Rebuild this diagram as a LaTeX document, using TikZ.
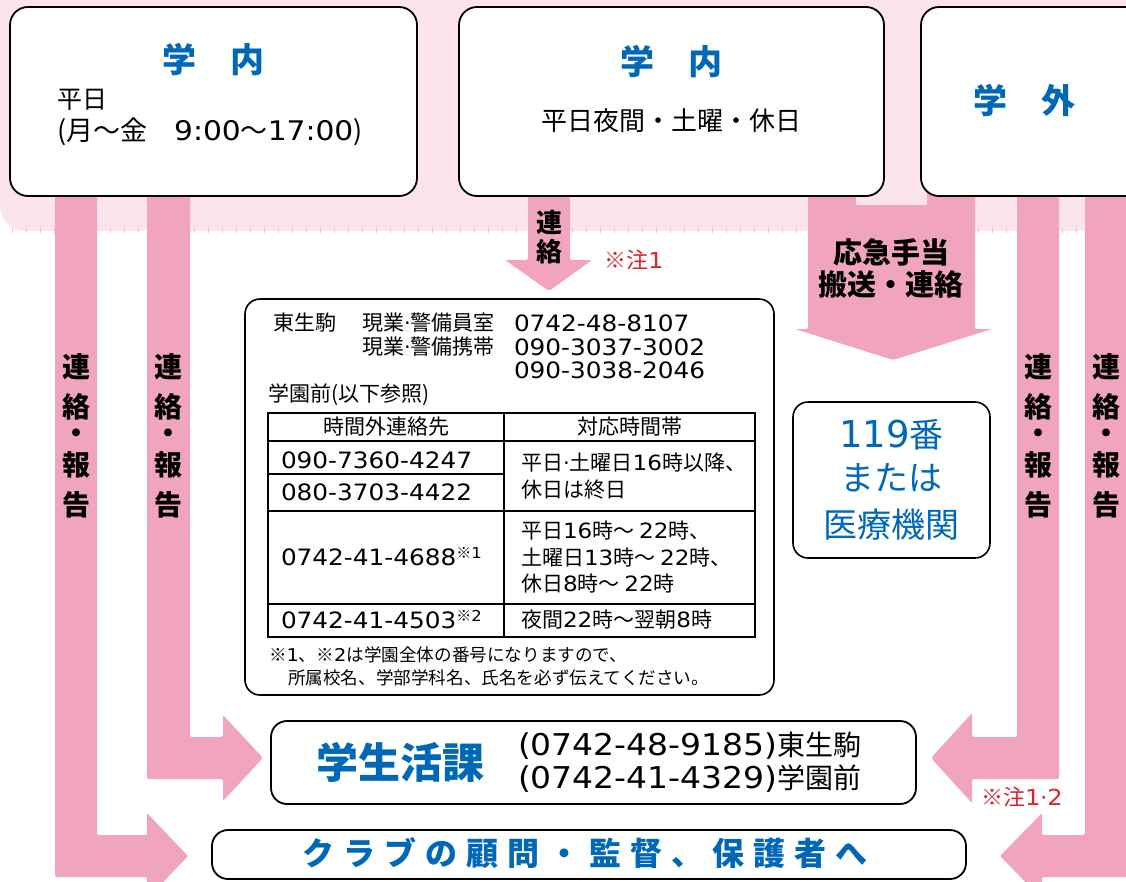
\documentclass[tikz,border=0pt]{standalone}
\usepackage{fontspec}
\setmainfont{Noto Sans CJK JP}
\newfontfamily\dv{DejaVu Sans}
\newfontfamily\dvw[FakeStretch=1.1]{DejaVu Sans}
\newcommand\fsz[1]{\fontsize{#1pt}{#1pt}\selectfont}
\newcommand\dd[1]{{\dvw #1}}
\definecolor{pk}{RGB}{241,164,190}
\definecolor{pkl}{RGB}{251,228,236}
\definecolor{tk}{RGB}{236,196,210}
\definecolor{bl}{RGB}{0,104,183}
\definecolor{rd}{RGB}{214,35,45}
\tikzset{
  bigbox/.style={draw=black, line width=1.8pt, fill=white, rounded corners=18pt, inner sep=0},
  midbox/.style={draw=black, line width=1.6pt, fill=white, rounded corners=15pt, inner sep=0},
  txt/.style={inner sep=0, outer sep=0},
  lt/.style={txt, anchor=west},
  head/.style={txt, text=bl, font=\fsz{34}\bfseries},
  vl/.style={txt, font=\fsz{28}\bfseries},
  jp/.style={lt, font=\fsz{21}},
  num/.style={lt, font=\dvw\fsz{22.5}},
  tline/.style={draw=black, line width=1.2pt},
  barfill/.style={fill=pk, rounded corners=2pt}
}
\begin{document}
\begin{tikzpicture}[x=1pt,y=-1pt]
\useasboundingbox (0,0) rectangle (1126,881);
\clip (0,0) rectangle (1126,881);
% background band
\fill[pkl, rounded corners=25pt] (0,-60) rectangle (1200,231);
\fill[pkl] (0,-60) rectangle (60,100);
\foreach \x in {12,26,...,1126} \draw[tk, line width=0.8pt] (\x,228) -- (\x,233);
% bars (block arrows)
\fill[barfill] (55,180) -- (55,877) -- (147,877) -- (147,899) -- (188,856) -- (147,813) -- (147,835) -- (97,835) -- (97,180) -- cycle;
\fill[barfill] (147,180) -- (147,779) -- (223,779) -- (223,801) -- (263,758) -- (223,715) -- (223,737) -- (190,737) -- (190,180) -- cycle;
\fill[barfill] (1059,180) -- (1059,779) -- (972,779) -- (972,803) -- (931,758) -- (972,713) -- (972,737) -- (1017,737) -- (1017,180) -- cycle;
\fill[barfill] (1130,180) -- (1130,877) -- (1042,877) -- (1042,899) -- (1000,856) -- (1042,813) -- (1042,835) -- (1085,835) -- (1085,180) -- cycle;
\fill[barfill] (528,180) -- (528,260) -- (505,260) -- (549,291) -- (592,260) -- (570,260) -- (570,180) -- cycle;
\fill[barfill] (808,180) -- (808,329) -- (795,329) -- (893,360) -- (992,329) -- (975,329) -- (975,180) -- cycle;
\fill[pkl] (856,180) rectangle (927,205);
% top boxes
\node[bigbox, minimum width=407pt, minimum height=189pt] (box1) at (213.5,101.5) {};
\node[bigbox, minimum width=425pt, minimum height=189pt] (box2) at (671.5,101.5) {};
\node[bigbox, minimum width=260pt, minimum height=189pt] (box3) at (1051,101.5) {};
\node[head] (h1) at (213.5,60) {学　内};
\node[lt, font=\fsz{25}] (h1a) at (57,100) {平日};
\node[lt, font=\fsz{27}] (h1b) at (57,132) {(月〜金　\dd{9:00}〜\dd{17:00})};
\node[head] (h2) at (671.5,62) {学　内};
\node[txt, font=\fsz{26}] (h2a) at (671.5,121) {平日夜間・土曜・休日};
\node[head] (h3) at (1024,100) {学　外};
% small arrow label
\node[txt, font=\fsz{26}\bfseries] (s1) at (549,222) {連};
\node[txt, font=\fsz{26}\bfseries] (s2) at (549,252) {絡};
\node[lt, font=\fsz{22}, text=rd] (n1) at (604,260) {※注\dd{1}};
% big arrow label
\node[txt, font=\fsz{29}\bfseries] (e1) at (891,252) {応急手当};
\node[txt, font=\fsz{29}\bfseries] (e2) at (891,285) {搬送・連絡};
% vertical labels
\foreach \bx/\nm in {76/a,168.5/b,1038/c,1106/d}{
  \node[vl] (\nm1) at (\bx,367) {連};
  \node[vl] (\nm2) at (\bx,407) {絡};
  \node[vl] (\nm3) at (\bx,436) {・};
  \node[vl] (\nm4) at (\bx,465) {報};
  \node[vl] (\nm5) at (\bx,505) {告};
}
% 119 box
\node[midbox, minimum width=197pt, minimum height=156pt] (er) at (891.5,480) {};
\node[txt, text=bl] (er1) at (891.5,435) {{\dv\fsz{37}119}{\fsz{34}番}};
\node[txt, text=bl, font=\fsz{34}] (er2) at (891.5,478) {または};
\node[txt, text=bl, font=\fsz{34}] (er3) at (891.5,525) {医療機関};
% info box
\node[midbox, minimum width=529pt, minimum height=396pt] (info) at (509.5,497) {};
\node[jp] (i1) at (273,323) {東生駒};
\node[jp] (i2) at (362,323) {現業{\dv ·}警備員室};
\node[num] (i3) at (514,323) {0742-48-8107};
\node[jp] (i4) at (362,347) {現業{\dv ·}警備携帯};
\node[num] (i5) at (514,347) {090-3037-3002};
\node[num] (i6) at (514,370) {090-3038-2046};
\node[jp] (i7) at (268,395) {学園前(以下参照)};
% table
\draw[tline] (268,413) rectangle (755,637);
\draw[tline] (504,413) -- (504,637);
\draw[tline] (268,441) -- (755,441);
\draw[tline] (268,474) -- (504,474);
\draw[tline] (268,511) -- (755,511);
\draw[tline] (268,604) -- (755,604);
\node[txt, font=\fsz{21}] (th1) at (386,427) {時間外連絡先};
\node[txt, font=\fsz{21}] (th2) at (629.5,427) {対応時間帯};
\node[num] (r1) at (281,460) {090-7360-4247};
\node[num] (r2) at (281,492) {080-3703-4422};
\node[jp] (r3) at (521,463) {平日{\dv ·}土曜日\dd{16}時以降、};
\node[jp] (r4) at (521,490) {休日は終日};
\node[num] (r5) at (281,557) {0742-41-4688{\rmfamily\fsz{15}\raisebox{7pt}{※\dd{1}}}};
\node[jp] (r6) at (521,530) {平日\dd{16}時〜 \dd{22}時、};
\node[jp] (r7) at (521,557) {土曜日\dd{13}時〜 \dd{22}時、};
\node[jp] (r8) at (521,583) {休日\dd{8}時〜 \dd{22}時};
\node[num] (r9) at (281,620) {0742-41-4503{\rmfamily\fsz{15}\raisebox{7pt}{※\dd{2}}}};
\node[jp] (r10) at (521,620) {夜間\dd{22}時〜翌朝\dd{8}時};
\node[lt, font=\fsz{17.6}] (no1) at (269,655) {※\dd{1}、※\dd{2}は学園全体の番号になりますので、};
\node[lt, font=\fsz{17.6}] (no2) at (288,678) {所属校名、学部学科名、氏名を必ず伝えてください。};
% student life section
\node[bigbox, rounded corners=16pt, minimum width=645pt, minimum height=83pt] (sl) at (593.5,762.5) {};
\node[lt, text=bl, font=\fsz{42}\bfseries] (sl1) at (316,762) {学生活課};
\node[lt] (sl2) at (518,746) {{\dvw\fsz{30}(0742-48-9185)}{\fsz{28}東生駒}};
\node[lt] (sl3) at (518,779) {{\dvw\fsz{30}(0742-41-4329)}{\fsz{28}学園前}};
\node[lt, font=\fsz{22}, text=rd] (n2) at (981,797) {※注\dd{1}{\dv ·}\dd{2}};
% club box
\node[bigbox, rounded corners=16pt, minimum width=754pt, minimum height=49pt] (club) at (589,854.5) {};
\node[txt, text=bl, font=\fsz{32}\bfseries] (cl) at (585,853) {ク\hspace{9pt}ラ\hspace{9pt}ブ\hspace{9pt}の\hspace{9pt}顧\hspace{9pt}問\hspace{9pt}・\hspace{9pt}監\hspace{9pt}督\hspace{9pt}、\hspace{9pt}保\hspace{9pt}護\hspace{9pt}者\hspace{9pt}へ};
\end{tikzpicture}
\end{document}
